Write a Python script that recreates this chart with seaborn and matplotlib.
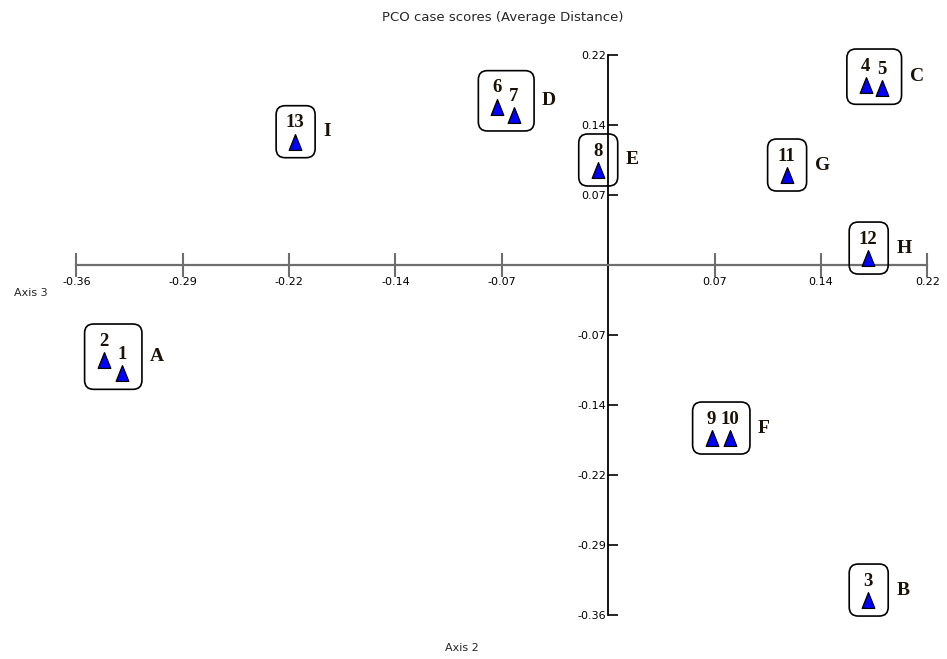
import matplotlib
matplotlib.use("Agg")
import numpy as np
import pandas as pd
import matplotlib.pyplot as plt
import seaborn as sns
from matplotlib.patches import FancyBboxPatch
from matplotlib.transforms import IdentityTransform

# ---- data ----
cases = ["1", "2", "3", "4", "5", "6", "7", "8", "9", "10", "11", "12", "13"]
axis2 = [-0.3314, -0.3439, 0.1771, 0.1755, 0.1862, -0.0756, -0.0642, -0.0072,
         0.0704, 0.0829, 0.1215, 0.1771, -0.2134]
axis3 = [-0.1122, -0.0984, -0.3470, 0.1864, 0.1830, 0.1640, 0.1554, 0.0984,
         -0.1792, -0.1792, 0.0932, 0.0072, 0.1277]
groups = ["A", "A", "B", "C", "C", "D", "D", "E", "F", "F", "G", "H", "I"]

x_ticks = [-0.3625, -0.29, -0.2175, -0.145, -0.0725, 0.0725, 0.145, 0.2175]
x_tick_labels = ["-0.36", "-0.29", "-0.22", "-0.14", "-0.07", "0.07", "0.14", "0.22"]
y_ticks = [0.2175, 0.145, 0.0725, -0.0725, -0.145, -0.2175, -0.29, -0.3625]
y_tick_labels = ["0.22", "0.14", "0.07", "-0.07", "-0.14", "-0.22", "-0.29", "-0.36"]

title = "PCO case scores (Average Distance)"
xlabel = "Axis 2"
ylabel = "Axis 3"

df = pd.DataFrame({"case": cases, "axis2": axis2, "axis3": axis3, "group": groups})

sns.set_theme(style="white")
plt.rcParams["font.family"] = ["DejaVu Sans"]

W, H = 947, 659
fig = plt.figure(figsize=(W / 100, H / 100), dpi=100)
ax = fig.add_axes([0, 0, 1, 1])
ax.set_facecolor("white")

ax.set_xlim(-0.41449, 0.23079)
ax.set_ylim(-0.40806, 0.27446)

tri = [(0, 1), (-0.8, -1), (0.8, -1), (0, 1)]
sns.scatterplot(data=df, x="axis2", y="axis3", marker=tri, s=130,
                color="#0000ff", edgecolor="black", linewidth=0.9,
                ax=ax, legend=False, zorder=4)

# spines crossing at origin
for s in ["top", "right"]:
    ax.spines[s].set_visible(False)
ax.spines["left"].set_position(("data", 0))
ax.spines["bottom"].set_position(("data", 0))
ax.spines["bottom"].set_bounds(-0.3625, 0.2175)
ax.spines["left"].set_bounds(-0.3625, 0.2175)
ax.spines["bottom"].set_color("#6e6e6e")
ax.spines["bottom"].set_linewidth(1.6)
ax.spines["left"].set_color("black")
ax.spines["left"].set_linewidth(1.3)

ax.set_xticks(x_ticks, x_tick_labels)
ax.set_yticks(y_ticks, y_tick_labels)
ax.tick_params(axis="x", bottom=True, direction="inout", length=17, width=1.5,
               colors="#6e6e6e", labelcolor="black", labelsize=8, pad=0)
ax.tick_params(axis="y", left=True, direction="in", length=7, width=1.2,
               colors="black", labelcolor="black", labelsize=8, pad=1.5)
ax.set_xlabel("")
ax.set_ylabel("")

# number labels above triangles
for _, r in df.iterrows():
    ax.annotate(r["case"], (r["axis2"], r["axis3"]), xytext=(0, 13.5),
                textcoords="offset points", ha="center", va="center",
                fontsize=13.5, fontweight="bold", family="Liberation Serif",
                color="#1a1208", zorder=5)

# rounded group boxes and group letters
fig.canvas.draw()
for g in dict.fromkeys(groups):
    sub = df[df["group"] == g]
    pts = ax.transData.transform(np.column_stack([sub["axis2"], sub["axis3"]]))
    left = pts[:, 0].min() - 19
    right = pts[:, 0].max() + 20
    top = pts[:, 1].max() + 36
    bottom = pts[:, 1].min() - 16
    box = FancyBboxPatch((left, bottom), right - left, top - bottom,
                         boxstyle="round,pad=0,rounding_size=9",
                         transform=IdentityTransform(), facecolor="none",
                         edgecolor="black", linewidth=1.2, clip_on=False, zorder=3)
    fig.add_artist(box)
    fig.text((right + 8) / W, ((top + bottom) / 2) / H, g, ha="left", va="center",
             fontsize=14, fontweight="bold", family="Liberation Serif",
             color="#1a1208")

fig.text(503 / W, 1 - 18 / H, title, ha="center", va="center", fontsize=9.5)
fig.text(462 / W, 1 - 648 / H, xlabel, ha="center", va="center", fontsize=8)
fig.text(31 / W, 1 - 293 / H, ylabel, ha="center", va="center", fontsize=8)

fig.savefig("out.png", dpi=100, facecolor="white")
